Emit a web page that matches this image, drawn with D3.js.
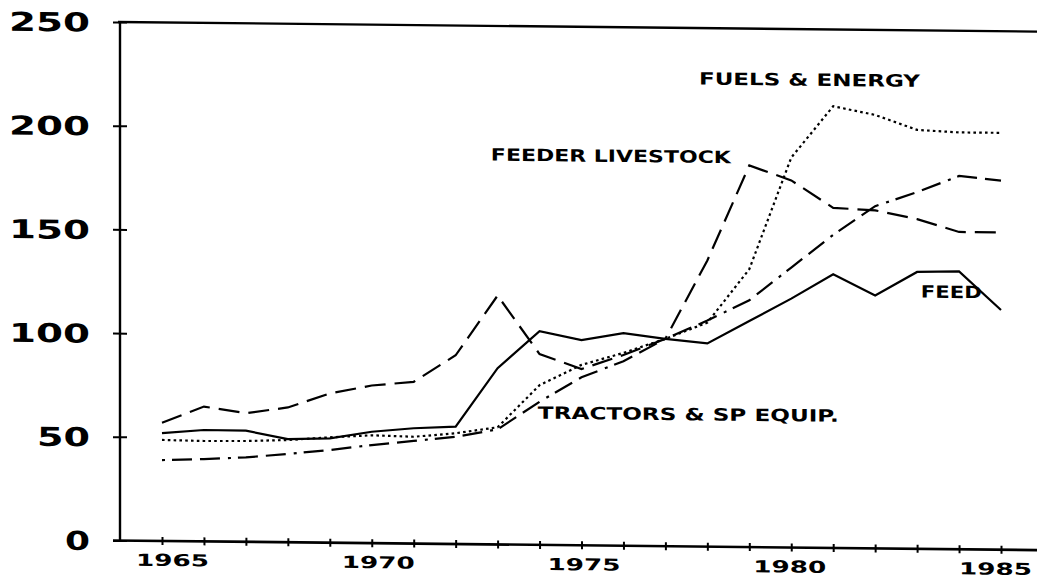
<!DOCTYPE html>
<html>
<head>
<meta charset="utf-8">
<script src="https://cdn.jsdelivr.net/npm/d3@7/dist/d3.min.js"></script>
<style>
  html, body { margin: 0; padding: 0; background: #fff; }
  svg { display: block; }
  text { font-family: "DejaVu Sans", sans-serif; font-weight: bold; fill: #000; }
</style>
</head>
<body>
<svg id="chart" width="1037" height="581"></svg>
<script>
// ---------------- data (index values) ----------------
const years = [1965, 1966, 1967, 1968, 1969, 1970, 1971, 1972, 1973, 1974, 1975,
               1976, 1977, 1978, 1979, 1980, 1981, 1982, 1983, 1984, 1985];

const feederLivestock = [57, 65, 62, 65, 72, 76, 78, 91, 120, 92, 85,
                         92, 100, 138, 184, 177, 164, 163, 159, 153, 153];

const fuelsEnergy = [48.7, 48.4, 48.6, 49.3, 50.8, 52, 51.5, 53.4, 56.5, 77, 87,
                     93, 100, 108, 134, 188, 213, 209, 202, 201, 201];

const tractorsEquip = [39, 39.7, 40.7, 42.6, 44.7, 47.3, 49.5, 51.7, 55.5, 69, 81,
                       89, 100, 109, 119, 135, 151, 165, 172, 180, 178];

const feed = [52, 53.7, 53.6, 49.7, 50.3, 53.7, 55.6, 56.6, 85, 103, 99,
              102.5, 100, 98, 109, 120, 132, 122, 133.5, 134, 115.6];

const yTickValues = [0, 50, 100, 150, 200, 250];
const xTickLabels = [1965, 1970, 1975, 1980, 1985];

const seriesNames = ["FEEDER LIVESTOCK", "FUELS & ENERGY", "TRACTORS & SP EQUIP.", "FEED"];
// label anchor points (year, index value) for the in-chart series labels
const labelYears  = [1972.84, 1977.8, 1973.96, 1983.09];
const labelValues = [188, 225.7, 63.8, 124.1];

// ---------------- drawing ----------------
const svg = d3.select("#chart");
const W = 1037;
const axisX = 120;

const x = d3.scaleLinear().domain([1965, 1985]).range([162, 1001]);
const xLabelPos = d3.scaleLinear().domain([1965, 1985]).range([172, 995]);
const y = d3.scaleLinear().domain([0, 250]).range([540.5, 22]);

// the scanned original is slightly sheared: right side sits lower
const shearDeg = 0.6;
const shearT = Math.tan(shearDeg * Math.PI / 180);
const g = svg.append("g")
  .attr("transform", `translate(0,${-axisX * shearT}) skewY(${shearDeg})`);

// frame lines: left axis, bottom axis, top line
g.append("line").attr("x1", axisX).attr("x2", axisX)
  .attr("y1", y(250)).attr("y2", y(0))
  .attr("stroke", "#000").attr("stroke-width", 2.4);
g.append("line").attr("x1", axisX - 7).attr("x2", W)
  .attr("y1", y(0)).attr("y2", y(0))
  .attr("stroke", "#000").attr("stroke-width", 2.6);
g.append("line").attr("x1", axisX - 2).attr("x2", W)
  .attr("y1", y(250)).attr("y2", y(250))
  .attr("stroke", "#000").attr("stroke-width", 2.4);

// y axis
const yAxis = g.append("g")
  .attr("transform", `translate(${axisX},0)`)
  .call(d3.axisLeft(y).tickValues(yTickValues).tickSize(7).tickFormat(d3.format("d")));
yAxis.select(".domain").remove();
yAxis.selectAll(".tick line")
  .attr("x1", -7).attr("x2", 7)
  .attr("stroke", "#000").attr("stroke-width", 2);
yAxis.selectAll(".tick text")
  .attr("x", 90 - axisX)
  .attr("dy", "0.36em")
  .attr("text-anchor", "end")
  .style("font-size", "26px")
  .style("font-family", "'DejaVu Sans', sans-serif")
  .style("font-weight", "bold")
  .attr("textLength", d => String(d).length * 28 - 3)
  .attr("lengthAdjust", "spacingAndGlyphs");

// x axis
const xAxis = g.append("g")
  .attr("transform", `translate(0,${y(0)})`)
  .call(d3.axisBottom(x).tickValues(years).tickSize(4)
    .tickFormat(d => xTickLabels.includes(d) ? String(d) : ""));
xAxis.select(".domain").remove();
xAxis.selectAll(".tick line")
  .attr("y1", -4).attr("y2", 4)
  .attr("stroke", "#000").attr("stroke-width", 2);
xAxis.selectAll(".tick text")
  .filter(d => xTickLabels.includes(d))
  .attr("x", d => xLabelPos(d) - x(d))
  .attr("y", 25)
  .attr("dy", 0)
  .attr("text-anchor", "middle")
  .style("font-size", "16.5px")
  .style("font-family", "'DejaVu Sans', sans-serif")
  .style("font-weight", "bold")
  .attr("textLength", 73)
  .attr("lengthAdjust", "spacingAndGlyphs");

// series lines
const line = d3.line()
  .x((d, i) => x(years[i]))
  .y(d => y(d));

const series = [
  { values: feederLivestock, dash: "21,9" },
  { values: fuelsEnergy,     dash: "2.6,3.2" },
  { values: tractorsEquip,   dash: "3,7,20,8,20,8" },
  { values: feed,            dash: null }
];

g.selectAll("path.series")
  .data(series)
  .join("path")
  .attr("class", "series")
  .attr("d", d => line(d.values))
  .attr("fill", "none")
  .attr("stroke", "#000")
  .attr("stroke-width", 2.2)
  .attr("stroke-linejoin", "miter")
  .attr("stroke-dasharray", d => d.dash);

// series labels
const labelLengths = [240, 221, 301, 61];
g.selectAll("text.slabel")
  .data(seriesNames)
  .join("text")
  .attr("class", "slabel")
  .attr("x", (d, i) => x(labelYears[i]))
  .attr("y", (d, i) => y(labelValues[i]))
  .attr("dy", "0.36em")
  .style("font-size", "17px")
  .attr("textLength", (d, i) => labelLengths[i])
  .attr("lengthAdjust", "spacingAndGlyphs")
  .text(d => d);
</script>
</body>
</html>
